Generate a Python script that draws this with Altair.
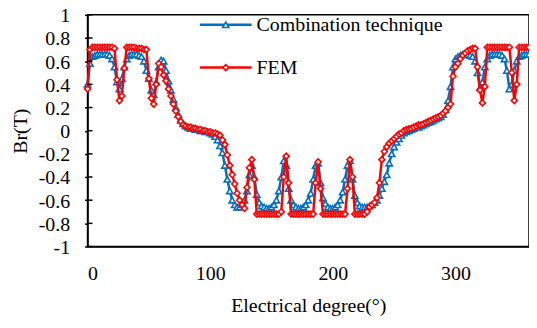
import altair as alt
import pandas as pd

# ---------------- data ----------------
degrees = list(range(0, 361, 2))

fem = [
    0.36, 0.70, 0.72, 0.72, 0.72, 0.72, 0.72, 0.72, 0.72, 0.72,
    0.72, 0.71, 0.44, 0.26, 0.30, 0.54, 0.72, 0.72, 0.72, 0.72,
    0.71, 0.71, 0.71, 0.70, 0.70, 0.45, 0.28, 0.23, 0.40, 0.58,
    0.55, 0.48, 0.43, 0.36, 0.30, 0.23, 0.17, 0.12, 0.08, 0.05,
    0.04, 0.03, 0.03, 0.02, 0.02, 0.01, 0.01, 0.00, 0.00, -0.01,
    -0.01, -0.02, -0.02, -0.03, -0.04, -0.08, -0.12, -0.21, -0.30, -0.38,
    -0.46, -0.54, -0.60, -0.64, -0.67, -0.49, -0.32, -0.25, -0.42, -0.72,
    -0.72, -0.72, -0.72, -0.72, -0.72, -0.72, -0.72, -0.72, -0.72, -0.70,
    -0.40, -0.22, -0.45, -0.72, -0.72, -0.72, -0.72, -0.72, -0.72, -0.72,
    -0.72, -0.72, -0.72, -0.45, -0.27, -0.50, -0.72, -0.72, -0.72, -0.72,
    -0.72, -0.72, -0.72, -0.72, -0.72, -0.72, -0.50, -0.25, -0.40, -0.72,
    -0.72, -0.72, -0.72, -0.72, -0.70, -0.66, -0.64, -0.62, -0.58, -0.45,
    -0.25, -0.18, -0.14, -0.11, -0.09, -0.07, -0.05, -0.03, -0.02, 0.00,
    0.01, 0.015, 0.02, 0.03, 0.04, 0.05, 0.05, 0.06, 0.07, 0.08,
    0.09, 0.10, 0.11, 0.12, 0.13, 0.15, 0.17, 0.20, 0.23, 0.47,
    0.55, 0.58, 0.62, 0.65, 0.67, 0.69, 0.70, 0.71, 0.71, 0.55,
    0.35, 0.24, 0.38, 0.72, 0.72, 0.72, 0.72, 0.72, 0.72, 0.72,
    0.72, 0.72, 0.72, 0.50, 0.26, 0.40, 0.72, 0.72, 0.72, 0.72,
    0.72,
]

combination = [
    0.40, 0.58, 0.64, 0.65, 0.66, 0.66, 0.66, 0.66, 0.66, 0.65,
    0.62, 0.55, 0.42, 0.36, 0.45, 0.55, 0.62, 0.65, 0.66, 0.66,
    0.66, 0.65, 0.64, 0.60, 0.52, 0.45, 0.35, 0.31, 0.42, 0.55,
    0.61, 0.60, 0.52, 0.43, 0.35, 0.27, 0.20, 0.14, 0.09, 0.06,
    0.04, 0.03, 0.02, 0.02, 0.01, 0.01, 0.00, 0.00, -0.01, -0.01,
    -0.02, -0.03, -0.05, -0.08, -0.13, -0.19, -0.30, -0.42, -0.52, -0.60,
    -0.64, -0.66, -0.66, -0.64, -0.60, -0.52, -0.38, -0.30, -0.40, -0.55,
    -0.62, -0.65, -0.66, -0.67, -0.67, -0.66, -0.64, -0.60, -0.52, -0.40,
    -0.26, -0.30, -0.50, -0.60, -0.64, -0.66, -0.67, -0.67, -0.66, -0.64,
    -0.60, -0.54, -0.42, -0.30, -0.28, -0.45, -0.58, -0.63, -0.66, -0.67,
    -0.67, -0.66, -0.64, -0.60, -0.53, -0.42, -0.30, -0.26, -0.42, -0.56,
    -0.62, -0.65, -0.66, -0.66, -0.66, -0.65, -0.64, -0.62, -0.60, -0.56,
    -0.50, -0.44, -0.38, -0.28, -0.20, -0.14, -0.10, -0.07, -0.04, -0.02,
    -0.01, 0.00, 0.01, 0.02, 0.03, 0.03, 0.04, 0.05, 0.06, 0.07,
    0.08, 0.09, 0.10, 0.11, 0.12, 0.14, 0.18, 0.26, 0.38, 0.55,
    0.62, 0.64, 0.65, 0.66, 0.66, 0.66, 0.65, 0.64, 0.60, 0.50,
    0.37, 0.42, 0.55, 0.62, 0.65, 0.66, 0.66, 0.66, 0.66, 0.65,
    0.62, 0.52, 0.36, 0.40, 0.52, 0.60, 0.64, 0.65, 0.66, 0.66,
    0.66,
]

series_names = ["Combination technique", "FEM"]
series_colors = ["#0070C0", "#FF0000"]
series_shapes = ["triangle-up", "diamond"]

x_ticks = [0, 100, 200, 300]
y_ticks = [-1, -0.8, -0.6, -0.4, -0.2, 0, 0.2, 0.4, 0.6, 0.8, 1]

FONT = "Liberation Serif"
W, H = 444, 233

df_comb = pd.DataFrame({"deg": degrees, "Br": combination})
df_fem = pd.DataFrame({"deg": degrees, "Br": fem})
df_yt = pd.DataFrame({"t": y_ticks})

xscale = alt.Scale(domain=[0, 360], nice=False, zero=False)
yscale = alt.Scale(domain=[-1, 1], nice=False, zero=False)

xaxis = alt.Axis(values=x_ticks, title="Electrical degree(°)", grid=False,
                 ticks=False, labelPadding=17, titlePadding=12,
                 labelFont=FONT, titleFont=FONT, labelFontSize=20,
                 titleFontSize=20, titleFontWeight="normal",
                 labelColor="black", titleColor="black",
                 domainColor="black", domainWidth=1.5)
yaxis = alt.Axis(values=y_ticks, title="Br(T)", grid=False,
                 labelExpr="toString(datum.value)",
                 tickSize=3, tickColor="black", tickWidth=1.5,
                 labelPadding=15, titlePadding=8, labelOffset=1,
                 labelFont=FONT, titleFont=FONT, labelFontSize=20,
                 titleFontSize=20, titleFontWeight="normal",
                 labelColor="black", titleColor="black",
                 domainColor="black", domainWidth=1.5)

X = alt.X("deg:Q", scale=xscale, axis=xaxis)
Y = alt.Y("Br:Q", scale=yscale, axis=yaxis)


def series_layers(df, color, shape, size):
    line = alt.Chart(df).mark_line(color=color, strokeWidth=2.5).encode(x=X, y=Y)
    pts = alt.Chart(df).mark_point(shape=shape, color=color, filled=False,
                                   fill="white", fillOpacity=1,
                                   strokeWidth=1.6, size=size, opacity=1).encode(x=X, y=Y)
    return [line, pts]


inner_ticks = alt.Chart(df_yt).mark_rule(color="black", strokeWidth=1.5).encode(
    y=alt.Y("t:Q", scale=yscale, axis=yaxis),
    x=alt.value(0), x2=alt.value(5))


def legend_entry(name, color, shape, size, ypx):
    d = pd.DataFrame({"name": [name]})
    ln = alt.Chart(d).mark_rule(color=color, strokeWidth=2.5).encode(
        x=alt.value(113), x2=alt.value(165), y=alt.value(ypx))
    mk = alt.Chart(d).mark_point(shape=shape, color=color, filled=False,
                                 fill="white", fillOpacity=1, strokeWidth=1.6,
                                 size=size, opacity=1).encode(
        x=alt.value(139), y=alt.value(ypx))
    tx = alt.Chart(d).mark_text(align="left", baseline="middle", font=FONT,
                                fontSize=20, color="black").encode(
        x=alt.value(170), y=alt.value(ypx), text="name:N")
    return [ln, mk, tx]


layers = []
layers += series_layers(df_comb, series_colors[0], series_shapes[0], 40)
layers += series_layers(df_fem, series_colors[1], series_shapes[1], 36)
layers.append(inner_ticks)
layers += legend_entry(series_names[0], series_colors[0], series_shapes[0], 40, 10)
layers += legend_entry(series_names[1], series_colors[1], series_shapes[1], 36, 53)

chart = alt.layer(*layers).properties(
    width=W, height=H,
    autosize=alt.AutoSizeParams(type="none"),
    padding={"left": 80, "top": 6, "right": 0, "bottom": 72},
    background="white",
).configure_view(stroke="black", strokeWidth=1.5)

chart.save("out.html", embed_options={"renderer": "svg", "actions": False})
